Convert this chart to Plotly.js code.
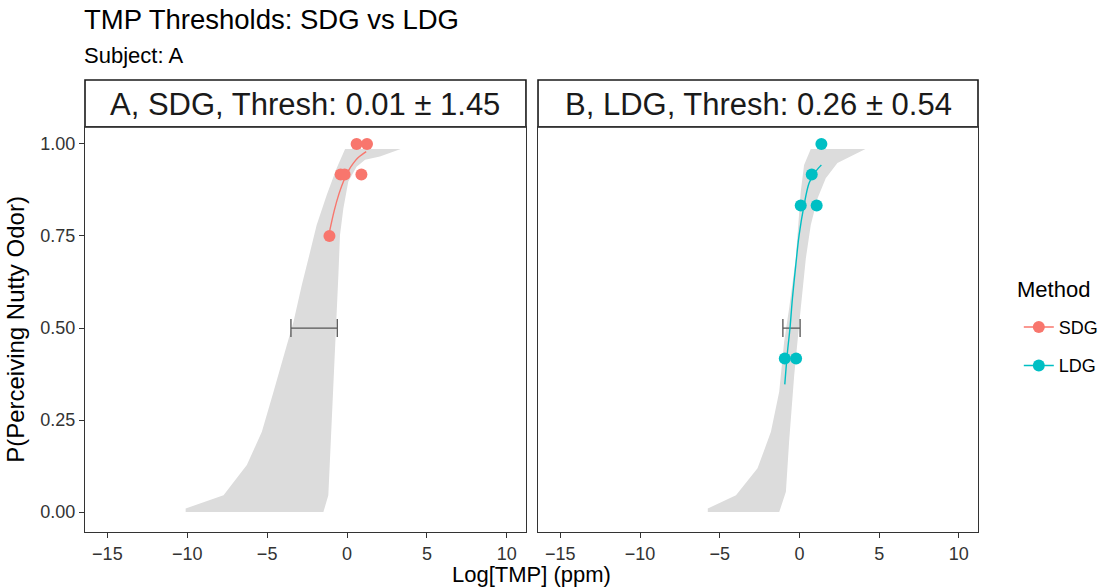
<!DOCTYPE html>
<html>
<head>
<meta charset="utf-8">
<script src="https://cdn.plot.ly/plotly-3.0.1.min.js"></script>
<style>html,body{margin:0;padding:0;background:#fff;}#chart{width:1105px;height:588px;}</style>
</head>
<body>
<div id="chart"></div>
<script>
// ---- data ----
const methods = ["SDG", "LDG"];
const legendTitle = "Method";
const stripLabels = ["A, SDG, Thresh: 0.01 \u00b1 1.45", "B, LDG, Thresh: 0.26 \u00b1 0.54"];
const xTicks = [-15, -10, -5, 0, 5, 10];
const yTicks = [0, 0.25, 0.5, 0.75, 1];
const yTickText = ["0.00", "0.25", "0.50", "0.75", "1.00"];

// observed points
const sdgX = [0.6, 1.25, -0.4, -0.15, 0.9, -1.1];
const sdgY = [1, 1, 0.917, 0.917, 0.917, 0.75];
const ldgX = [1.375, 0.77, 0.08, 1.08, -0.92, -0.21];
const ldgY = [1, 0.917, 0.833, 0.833, 0.417, 0.417];

// fitted curves
const sdgFitX = [-1.1, -0.8, -0.5, -0.2, 0.1, 0.4, 0.7, 1.0, 1.2];
const sdgFitY = [0.761, 0.819, 0.865, 0.901, 0.928, 0.948, 0.963, 0.973, 0.979];
const ldgFitX = [-0.92, -0.75, -0.6, -0.44, -0.23, -0.02, 0.29, 0.6, 0.9, 1.2, 1.375];
const ldgFitY = [0.347, 0.436, 0.497, 0.581, 0.671, 0.753, 0.834, 0.893, 0.918, 0.935, 0.943];

// confidence bands: left edge (top to bottom), right edge (bottom to top)
const sdgBandLeftX = [-0.12, -0.65, -1.27, -1.9, -2.31, -2.83, -3.35, -3.98, -4.6, -5.33, -6.27, -7.73, -10.1, -10.1];
const sdgBandLeftY = [0.986, 0.934, 0.861, 0.78, 0.707, 0.617, 0.517, 0.418, 0.327, 0.218, 0.128, 0.046, 0.01, 0.0];
const sdgBandRightX = [-1.48, -1.17, -1.06, -0.85, -0.65, -0.54, -0.44, -0.23, 0.08, 0.6, 1.13, 2.06, 3.36];
const sdgBandRightY = [0.0, 0.046, 0.146, 0.327, 0.508, 0.644, 0.753, 0.825, 0.898, 0.938, 0.957, 0.966, 0.986];

const ldgBandLeftX = [0.71, 0.29, 0.08, -0.23, -0.65, -0.96, -1.27, -1.79, -2.63, -3.98, -5.75, -5.75];
const ldgBandLeftY = [0.986, 0.943, 0.87, 0.689, 0.553, 0.463, 0.327, 0.218, 0.119, 0.046, 0.01, 0.0];
const ldgBandRightX = [-1.27, -0.85, -0.65, -0.33, 0.08, 0.4, 0.71, 1.13, 1.65, 2.38, 4.14];
const ldgBandRightY = [0.0, 0.055, 0.191, 0.372, 0.553, 0.689, 0.78, 0.852, 0.907, 0.948, 0.986];

// thresholds (centre, half width) at P = 0.5
const threshX = [-2.06, -0.5];
const threshErr = [1.45, 0.54];
const threshY = [0.5, 0.5];

// ---- styling ----
const colors = ["#F8766D", "#00BFC4"];
const FONT = "Liberation Sans, Arial, sans-serif";
const bandColor = "rgb(220,220,220)";

const panels = [
  {xa: "x", ya: "y", px: sdgX, py: sdgY, fx: sdgFitX, fy: sdgFitY,
   blx: sdgBandLeftX, bly: sdgBandLeftY, brx: sdgBandRightX, bry: sdgBandRightY},
  {xa: "x2", ya: "y2", px: ldgX, py: ldgY, fx: ldgFitX, fy: ldgFitY,
   blx: ldgBandLeftX, bly: ldgBandLeftY, brx: ldgBandRightX, bry: ldgBandRightY}
];

const traces = [];
panels.forEach((p, i) => {
  traces.push({
    type: "scatter", mode: "lines", xaxis: p.xa, yaxis: p.ya,
    x: p.blx.concat(p.brx), y: p.bly.concat(p.bry),
    fill: "toself", fillcolor: bandColor, line: {width: 0, color: bandColor},
    showlegend: false, hoverinfo: "skip"
  });
  traces.push({
    type: "scatter", mode: "markers", xaxis: p.xa, yaxis: p.ya,
    x: [threshX[i]], y: [threshY[i]],
    marker: {size: 0.1, color: "rgba(0,0,0,0)"},
    error_x: {type: "data", array: [threshErr[i]], visible: true, color: "#555555", thickness: 1.3, width: 9},
    showlegend: false
  });
  traces.push({
    type: "scatter", mode: "lines", xaxis: p.xa, yaxis: p.ya,
    x: p.fx, y: p.fy, line: {color: colors[i], width: 1.4, shape: "spline"},
    showlegend: false
  });
  traces.push({
    type: "scatter", mode: "markers", xaxis: p.xa, yaxis: p.ya,
    x: p.px, y: p.py, marker: {color: colors[i], size: 12},
    showlegend: false
  });
});
// legend entries
methods.forEach((m, i) => {
  traces.push({
    type: "scatter", mode: "lines+markers", xaxis: "x", yaxis: "y",
    x: [null], y: [null], name: m, legendgroup: m,
    line: {color: colors[i], width: 1.4}, marker: {color: colors[i], size: 12},
    showlegend: true
  });
});

const axisCommon = {
  range: [-16.4, 11.2], tickvals: xTicks, ticks: "outside", ticklen: 5, tickcolor: "#333",
  showline: true, mirror: true, linecolor: "#333", linewidth: 1.2,
  showgrid: false, zeroline: false, tickfont: {family: FONT, size: 18, color: "#333"}
};
const yDomTop = 0.896;
const layout = {
  width: 1105, height: 588,
  margin: {l: 85, r: 127, t: 80, b: 56},
  paper_bgcolor: "#fff", plot_bgcolor: "#fff",
  font: {family: FONT, color: "#000"},
  xaxis: Object.assign({}, axisCommon, {domain: [0, 0.4938], anchor: "y"}),
  xaxis2: Object.assign({}, axisCommon, {domain: [0.5073, 1], anchor: "y2"}),
  yaxis: {
    domain: [0, yDomTop], range: [-0.054, 1.046], tickvals: yTicks, ticktext: yTickText,
    ticks: "outside", ticklen: 5, tickcolor: "#333", showline: true, mirror: true,
    linecolor: "#333", linewidth: 1.2, showgrid: false, zeroline: false,
    tickfont: {family: FONT, size: 18, color: "#333"},
    title: {text: "P(Perceiving Nutty Odor)", font: {family: FONT, size: 24, color: "#000"}, standoff: 8},
    anchor: "x"
  },
  yaxis2: {
    domain: [0, yDomTop], range: [-0.054, 1.046], matches: "y", showticklabels: false,
    ticks: "", showline: true, mirror: true, linecolor: "#333", linewidth: 1.2,
    showgrid: false, zeroline: false, anchor: "x2"
  },
  showlegend: true,
  legend: {
    xref: "container", yref: "container",
    x: 0.922, xanchor: "left", y: 0.411, yanchor: "middle",
    traceorder: "grouped",
    font: {family: FONT, size: 18, color: "#000"}, tracegroupgap: 12,
    bgcolor: "rgba(0,0,0,0)", itemwidth: 30
  },
  shapes: [
    {type: "rect", xref: "paper", yref: "paper", x0: 0, x1: 0.4938, y0: yDomTop, y1: 1.0,
     line: {color: "#1a1a1a", width: 1.6}, fillcolor: "#fff", layer: "below"},
    {type: "rect", xref: "paper", yref: "paper", x0: 0.5073, x1: 1, y0: yDomTop, y1: 1.0,
     line: {color: "#1a1a1a", width: 1.6}, fillcolor: "#fff", layer: "below"}
  ],
  annotations: [
    {text: stripLabels[0], xref: "paper", yref: "paper", x: 0.2469, y: 0.946, xanchor: "center", yanchor: "middle",
     showarrow: false, font: {family: FONT, size: 31, color: "#1a1a1a"}},
    {text: stripLabels[1], xref: "paper", yref: "paper", x: 0.7537, y: 0.946, xanchor: "center", yanchor: "middle",
     showarrow: false, font: {family: FONT, size: 31, color: "#1a1a1a"}},
    {text: "TMP Thresholds: SDG vs LDG", xref: "paper", yref: "paper", x: -0.003, y: 1.133, xanchor: "left", yanchor: "middle",
     showarrow: false, font: {family: FONT, size: 27.5, color: "#000"}},
    {text: "Subject: A", xref: "paper", yref: "paper", x: -0.003, y: 1.054, xanchor: "left", yanchor: "middle",
     showarrow: false, font: {family: FONT, size: 22, color: "#000"}},
    {text: "Log[TMP] (ppm)", xref: "paper", yref: "paper", x: 0.5, y: -0.094, xanchor: "center", yanchor: "middle",
     showarrow: false, font: {family: FONT, size: 22, color: "#000"}},
    {text: legendTitle, xref: "paper", yref: "paper", x: 1.0415, y: 0.5376, xanchor: "left", yanchor: "middle",
     showarrow: false, font: {family: FONT, size: 22, color: "#000"}}
  ]
};

Plotly.newPlot("chart", traces, layout, {staticPlot: true, displayModeBar: false});
</script>
</body>
</html>
